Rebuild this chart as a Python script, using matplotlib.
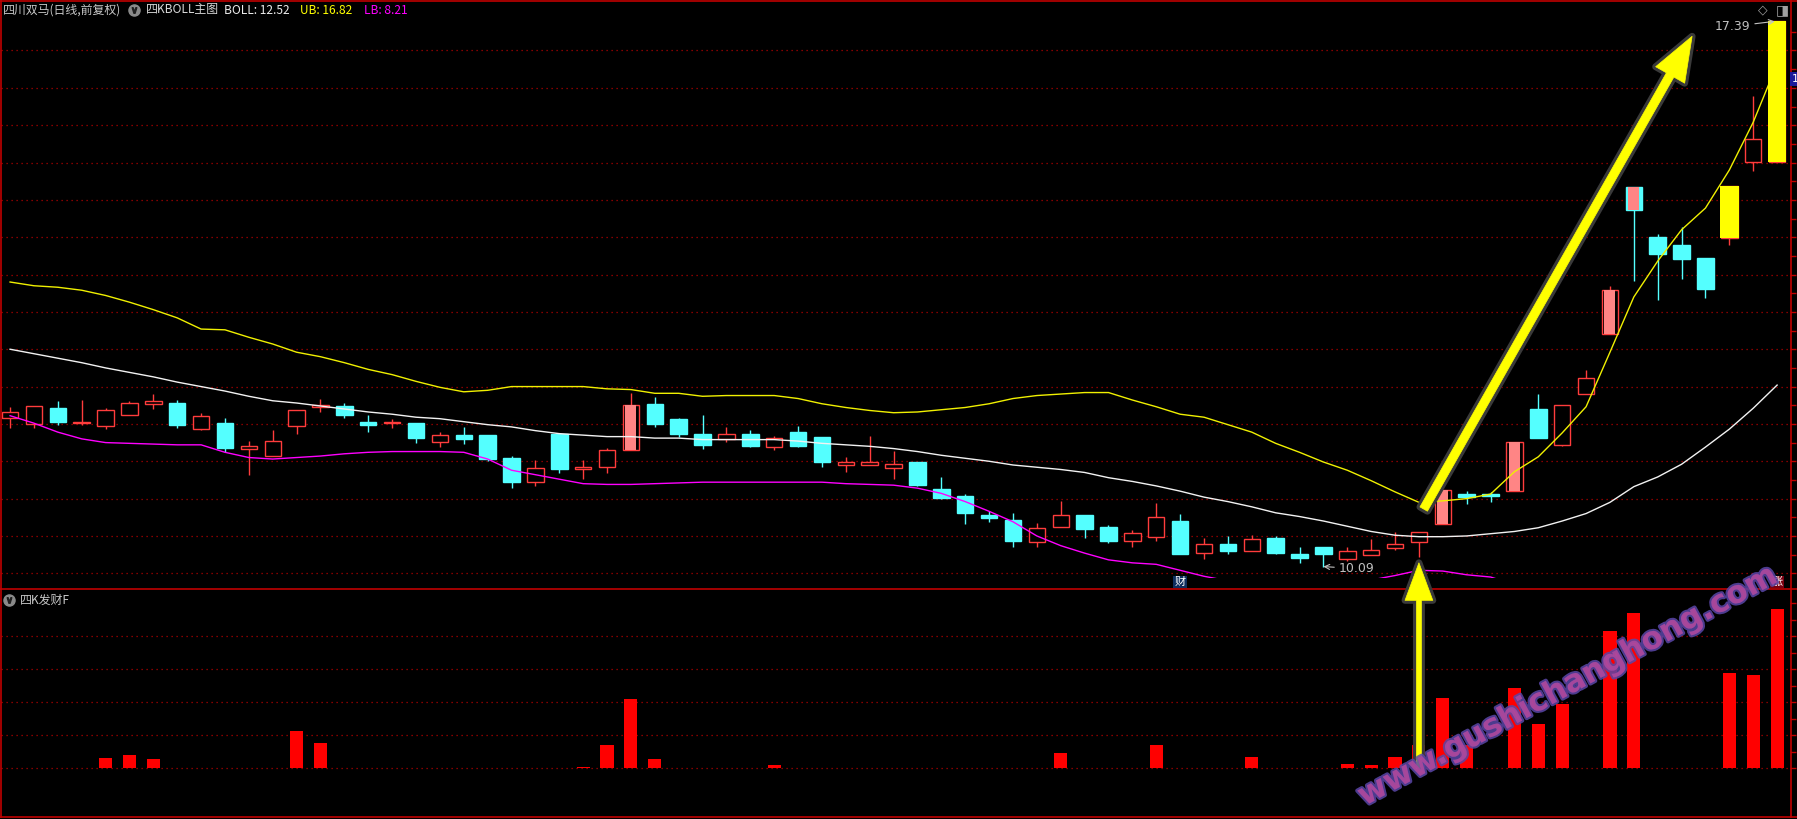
import matplotlib
matplotlib.use('Agg')
import matplotlib.pyplot as plt
import matplotlib.patheffects as pe
import matplotlib.transforms as mtransforms
from matplotlib.patches import Rectangle, FancyArrowPatch, ConnectionPatch
from matplotlib.lines import Line2D
import numpy as np

plt.rcParams['font.family'] = ['Noto Sans CJK SC', 'DejaVu Sans']

# ---- data ----
opens = [12.08, 12.00, 12.21, 12.01, 11.97, 12.12, 12.27, 12.28, 11.93, 12.01,
         11.66, 11.57, 11.97, 12.23, 12.24, 12.03, 12.01, 12.01, 11.76, 11.85,
         11.85, 11.54, 11.22, 11.87, 11.40, 11.42, 11.65, 12.27, 12.07, 11.87,
         11.80, 11.87, 11.69, 11.89, 11.83, 11.45, 11.45, 11.41, 11.49, 11.13,
         11.03, 10.78, 10.71, 10.42, 10.62, 10.78, 10.62, 10.43, 10.49, 10.70,
         10.27, 10.39, 10.30, 10.47, 10.26, 10.35, 10.19, 10.25, 10.34, 10.42,
         10.66, 11.06, 11.06, 11.10, 12.20, 11.72, 12.40, 13.20, 15.17, 14.50,
         14.40, 14.22, 14.49, 15.51, 15.51]
highs = [12.23, 12.24, 12.31, 12.32, 12.21, 12.31, 12.40, 12.32, 12.15, 12.08,
         11.77, 11.92, 12.19, 12.33, 12.28, 12.12, 12.07, 12.01, 11.89, 11.96,
         11.85, 11.57, 11.52, 11.87, 11.52, 11.68, 12.41, 12.36, 12.08, 12.12,
         11.96, 11.92, 11.84, 11.97, 11.83, 11.56, 11.84, 11.64, 11.49, 11.29,
         11.06, 10.83, 10.81, 10.67, 10.97, 10.78, 10.65, 10.58, 10.94, 10.79,
         10.47, 10.50, 10.51, 10.50, 10.35, 10.35, 10.35, 10.46, 10.55, 10.55,
         11.12, 11.10, 11.09, 11.76, 12.40, 12.25, 12.72, 13.85, 15.17, 14.54,
         14.64, 14.22, 15.19, 16.39, 17.39]
lows = [11.95, 11.95, 11.99, 11.99, 11.93, 12.12, 12.20, 11.95, 11.92, 11.62,
        11.32, 11.57, 11.87, 12.16, 12.08, 11.89, 11.95, 11.75, 11.69, 11.73,
        11.50, 11.14, 11.17, 11.34, 11.26, 11.34, 11.65, 11.96, 11.83, 11.66,
        11.76, 11.69, 11.65, 11.69, 11.42, 11.36, 11.45, 11.26, 11.17, 10.99,
        10.66, 10.69, 10.35, 10.35, 10.62, 10.47, 10.41, 10.35, 10.43, 10.26,
        10.19, 10.26, 10.30, 10.26, 10.14, 10.09, 10.16, 10.25, 10.31, 10.22,
        10.66, 10.93, 10.95, 11.10, 11.81, 11.70, 12.40, 13.20, 13.92, 13.66,
        13.94, 13.68, 14.40, 15.39, 15.51]
closes = [12.16, 12.24, 12.03, 12.02, 12.19, 12.28, 12.31, 11.99, 12.11, 11.68,
          11.70, 11.77, 12.19, 12.25, 12.12, 11.99, 12.02, 11.81, 11.85, 11.80,
          11.53, 11.22, 11.41, 11.40, 11.42, 11.65, 12.25, 12.00, 11.87, 11.72,
          11.87, 11.70, 11.81, 11.70, 11.49, 11.49, 11.49, 11.46, 11.18, 11.01,
          10.81, 10.74, 10.43, 10.61, 10.78, 10.59, 10.43, 10.54, 10.75, 10.26,
          10.39, 10.30, 10.46, 10.27, 10.20, 10.26, 10.30, 10.31, 10.39, 10.55,
          11.12, 11.02, 11.03, 11.76, 11.81, 12.25, 12.61, 13.79, 14.86, 14.27,
          14.21, 13.81, 15.19, 15.81, 17.39]

ub = [13.90, 13.85, 13.83, 13.79, 13.72, 13.63, 13.53, 13.42, 13.27, 13.26,
      13.16, 13.07, 12.96, 12.90, 12.82, 12.73, 12.66, 12.57, 12.49, 12.43,
      12.45, 12.50, 12.50, 12.50, 12.50, 12.47, 12.46, 12.41, 12.41, 12.37,
      12.38, 12.38, 12.38, 12.34, 12.27, 12.22, 12.18, 12.15, 12.16, 12.19,
      12.22, 12.27, 12.34, 12.38, 12.40, 12.42, 12.42, 12.32, 12.23, 12.13,
      12.09, 11.99, 11.89, 11.74, 11.62, 11.49, 11.38, 11.24, 11.09, 10.95,
      10.97, 11.00, 11.06, 11.36, 11.56, 11.88, 12.23, 12.96, 13.70, 14.18,
      14.60, 14.89, 15.40, 16.04, 16.82]
mid = [13.00, 12.94, 12.88, 12.82, 12.75, 12.69, 12.63, 12.56, 12.50, 12.44,
       12.37, 12.31, 12.28, 12.24, 12.20, 12.16, 12.13, 12.09, 12.07, 12.03,
       11.99, 11.96, 11.91, 11.87, 11.85, 11.83, 11.83, 11.81, 11.81, 11.79,
       11.79, 11.79, 11.79, 11.77, 11.74, 11.72, 11.70, 11.67, 11.63, 11.58,
       11.54, 11.50, 11.45, 11.42, 11.39, 11.35, 11.28, 11.23, 11.17, 11.10,
       11.02, 10.96, 10.89, 10.81, 10.76, 10.70, 10.63, 10.56, 10.51, 10.49,
       10.49, 10.50, 10.53, 10.56, 10.61, 10.70, 10.80, 10.95, 11.16, 11.29,
       11.46, 11.69, 11.93, 12.21, 12.52]
lb = [12.11, 12.01, 11.89, 11.80, 11.75, 11.74, 11.73, 11.72, 11.72, 11.62,
      11.55, 11.53, 11.55, 11.57, 11.60, 11.62, 11.63, 11.63, 11.63, 11.62,
      11.53, 11.38, 11.32, 11.26, 11.20, 11.19, 11.19, 11.20, 11.21, 11.22,
      11.22, 11.22, 11.22, 11.22, 11.22, 11.20, 11.19, 11.18, 11.14, 11.07,
      10.96, 10.83, 10.69, 10.50, 10.37, 10.27, 10.18, 10.14, 10.12, 10.04,
      9.96, 9.90, 9.88, 9.87, 9.87, 9.88, 9.89, 9.91, 9.97, 10.04,
      10.03, 9.98, 9.95, 9.85, 9.74, 9.60, 9.45, 9.25, 9.02, 8.87,
      8.73, 8.60, 8.48, 8.35, 8.21]

signal_days = [26, 60, 63, 67, 68]      # pink filled bodies
limit_days = [72, 74]                   # yellow bodies

facai = [0, 0, 0, 0, 6.2, 8.1, 5.6, 0, 0, 0,
         0, 0, 22.6, 15.3, 0, 0, 0, 0, 0, 0,
         0, 0, 0, 0, 0.8, 14.1, 42.0, 5.6, 0, 0,
         0, 0, 2.0, 0, 0, 0, 0, 0, 0, 0,
         0, 0, 0, 0, 9.3, 0, 0, 0, 14.1, 0,
         0, 0, 6.8, 0, 0, 0, 2.6, 2.0, 6.8, 14.1,
         42.6, 14.1, 0, 48.7, 26.8, 39.0, 0, 83.2, 94.1, 0,
         0, 0, 57.8, 56.5, 96.5]

title = '四川双马(日线,前复权)'
main_name = '四KBOLL主图'
sub_name = '四K发财F'
watermark = 'www.gushichanghong.com'

# ---- colours ----
RED = '#ff3c3c'
CYAN = '#54ffff'
PINK = '#ff8585'
YEL = '#ffff00'
BORDER = '#c00000'
GRID = '#b00000'

W, H = 1797, 819


def fx(x):
    return x / W


def fy(y):
    return 1 - y / H


fig = plt.figure(figsize=(W / 100, H / 100), dpi=100, facecolor='black')
ax = fig.add_axes([fx(1), fy(578), fx(1790) - fx(1), fy(18) - fy(578)])
ax2 = fig.add_axes([fx(1), fy(816.5), fx(1790) - fx(1), fy(590) - fy(816.5)])

n = len(closes)
x = np.arange(n)
for a in (ax, ax2):
    a.set_facecolor('black')
    a.set_xlim(-0.38, n - 1 + 0.54)
    a.set_xticks([])
    for s in a.spines.values():
        s.set_visible(False)
    a.yaxis.tick_right()
    a.tick_params(axis='y', colors=BORDER, length=4, width=1, labelright=False)

ax.set_ylim(9.937, 17.435)
ax.set_yticks(np.arange(10, 17.3, 0.25))
ax2.set_ylim(-29.2, 108.1)
ax2.set_yticks(np.arange(0, 101, 10))

for g in np.arange(10, 17.01, 0.5):
    ax.axhline(g, color=GRID, lw=0.9, ls=(0, (1, 3)), zorder=1)
for g in range(0, 81, 20):
    ax2.axhline(g, color=GRID, lw=0.9, ls=(0, (1, 3)), zorder=1)

# candles
bw = 0.69
for i in range(n):
    o, h, l, c = opens[i], highs[i], lows[i], closes[i]
    top, bot = max(o, c), min(o, c)
    col = RED if c >= o else CYAN
    ax.vlines(i, top, h, color=col, lw=1.0, zorder=2)
    ax.vlines(i, l, bot, color=col, lw=1.0, zorder=2)
    fc = 'black' if c >= o else col
    ax.add_patch(Rectangle((i - bw / 2, bot), bw, top - bot, facecolor=fc,
                           edgecolor=col, lw=1.0, zorder=3))
for i in signal_days:
    top, bot = max(opens[i], closes[i]), min(opens[i], closes[i])
    ax.add_patch(Rectangle((i - 0.23, bot), 0.46, top - bot, facecolor=PINK,
                           edgecolor='none', zorder=3.5))

# BOLL lines
ax.plot(x, ub, color='#f0f000', lw=1.0, zorder=4)
ax.plot(x, mid, color='#f2f2f2', lw=1.0, zorder=4)
ax.plot(x, lb, color='#ff00ff', lw=1.0, zorder=4)

for i in limit_days:
    top, bot = max(opens[i], closes[i]), min(opens[i], closes[i])
    ax.add_patch(Rectangle((i - 0.39, bot), 0.78, top - bot, facecolor=YEL,
                           edgecolor='none', zorder=5))

# high / low marks
hi = int(np.argmax(highs))
lo = int(np.argmin(lows))
ax.annotate('%.2f' % highs[hi], xy=(hi - 0.1, highs[hi]), xytext=(-24, -5),
            textcoords='offset pixels', ha='right', va='center', color='#c0c0c0',
            fontsize=9, family=['DejaVu Sans'], annotation_clip=False, zorder=6,
            arrowprops=dict(arrowstyle='->', color='#c0c0c0', lw=0.8, shrinkA=1, shrinkB=0))
ax.annotate('%.2f' % lows[lo], xy=(lo, lows[lo]), xytext=(15, -2),
            textcoords='offset pixels', ha='left', va='center', color='#c0c0c0',
            fontsize=9, family=['DejaVu Sans'], annotation_clip=False, zorder=6,
            arrowprops=dict(arrowstyle='->', color='#c0c0c0', lw=0.8, shrinkA=1, shrinkB=0))

# sub panel bars
bx = [i for i in range(n) if facai[i] > 0]
ax2.bar(bx, [facai[i] for i in bx], width=0.55, color='#ff0000', zorder=3)

# yellow arrows
glow = [pe.withStroke(linewidth=5, foreground='#3a3a3a')]
big = FancyArrowPatch((59.2, 10.86), (70.44, 17.19),
                      arrowstyle='simple,head_length=32,head_width=24,tail_width=6.2',
                      mutation_scale=1, facecolor=YEL, edgecolor=YEL, lw=0.5,
                      shrinkA=0, shrinkB=0, zorder=8, clip_on=False, path_effects=glow)
ax.add_patch(big)
up_arrow = ConnectionPatch(xyA=(59, 0), coordsA=ax2.transData,
                           xyB=(59, 10.14), coordsB=ax.transData,
                           arrowstyle='simple,head_length=27,head_width=20,tail_width=3.6',
                           mutation_scale=1, facecolor=YEL, edgecolor=YEL, lw=0.5,
                           shrinkA=0, shrinkB=0, zorder=8, path_effects=glow)
fig.add_artist(up_arrow)

# frame lines
def fline(x0, y0, x1, y1, **kw):
    fig.add_artist(Line2D([fx(x0), fx(x1)], [fy(y0), fy(y1)], transform=fig.transFigure, **kw))


fline(0, 1, W, 1, color=BORDER, lw=1.2)
fline(1, 0, 1, 817, color=BORDER, lw=1.2)
fline(0, 589, W, 589, color=BORDER, lw=1.2)
fline(0, 816.5, W, 816.5, color=BORDER, lw=1.2)
fline(1790.5, 0, 1790.5, 817, color=BORDER, lw=1.2)

# header texts
hy = fy(10)
fig.text(fx(3), hy, title, color='#c8c8c8', fontsize=8.6, va='center')
fig.add_artist(Line2D([fx(134)], [hy], marker='o', ms=8, color='#8a8a8a', transform=fig.transFigure))
fig.add_artist(Line2D([fx(134)], [hy], marker=r'$\vee$', ms=4, color='#202020', transform=fig.transFigure))
fig.text(fx(146), hy, main_name, color='#d8d8d8', fontsize=8.6, va='center')
fig.text(fx(224), hy, 'BOLL: %.2f' % mid[-1], color='#ececec', fontsize=8.6, va='center')
fig.text(fx(300), hy, 'UB: %.2f' % ub[-1], color='#ffff00', fontsize=8.6, va='center')
fig.text(fx(364), hy, 'LB: %.2f' % lb[-1], color='#ff00ff', fontsize=8.6, va='center')
fig.text(fx(1763), hy, '\u25c7', color='#a0a0a0', fontsize=9, va='center', ha='center', family=['DejaVu Sans'])
fig.text(fx(1782), hy, '\u25e8', color='#a0a0a0', fontsize=10, va='center', ha='center', family=['DejaVu Sans'])
fig.text(fx(1792), fy(79), '1', color='white', fontsize=8, va='center', ha='left',
         family=['DejaVu Sans'], bbox=dict(facecolor='#1a1a9a', edgecolor='none', pad=1.5))

sy = fy(600)
fig.add_artist(Line2D([fx(9)], [sy], marker='o', ms=8, color='#8a8a8a', transform=fig.transFigure))
fig.add_artist(Line2D([fx(9)], [sy], marker=r'$\vee$', ms=4, color='#202020', transform=fig.transFigure))
fig.text(fx(20), sy, sub_name, color='#c8c8c8', fontsize=8.6, va='center')

# small tags under the main panel
tr = mtransforms.blended_transform_factory(ax.transData, fig.transFigure)
fig.text(49, fy(582), '财', transform=tr, color='white', fontsize=8, ha='center', va='center',
         bbox=dict(facecolor='#0e2e5e', edgecolor='none', pad=1))
fig.text(74, fy(582), '涨', transform=tr, color='white', fontsize=8, ha='center', va='center',
         bbox=dict(facecolor='#7a0010', edgecolor='none', pad=1))

# watermark
fig.text(fx(1568), fy(686), watermark, rotation=28.5, rotation_mode='anchor',
         ha='center', va='center', fontsize=22.5, fontweight='bold', family=['DejaVu Sans'],
         color='#b0489c', alpha=0.85, zorder=9,
         path_effects=[pe.withStroke(linewidth=3, foreground='#5a46a8')])

fig.savefig('out.png', dpi=100, facecolor='black')
